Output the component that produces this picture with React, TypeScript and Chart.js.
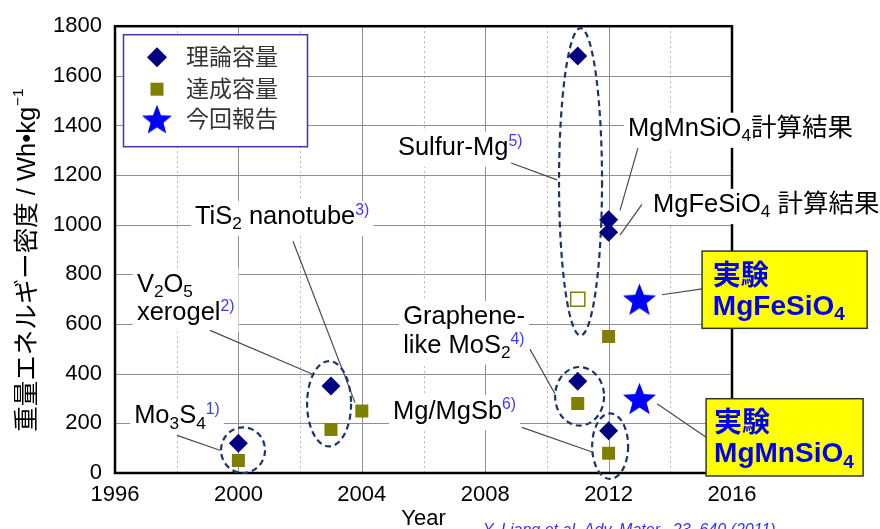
import React, { useEffect, useRef } from "react";
import { Chart, registerables } from "chart.js";

Chart.register(...registerables);

const LATIN = "'Liberation Sans', Arial, Helvetica";
const FONT = `${LATIN}, 'Noto Sans CJK JP', sans-serif`;
const REF_COLOR = "#3a3aff";

// ---------------- data ----------------
const theoryYears = [2000, 2003, 2011, 2011, 2012, 2012, 2012];
const theoryValues = [120, 350, 1680, 370, 170, 1020, 970];
const achievedYears = [2000, 2003, 2004, 2011, 2012, 2012];
const achievedValues = [50, 175, 250, 280, 80, 550];
const sulfurAchievedYears = [2011];
const sulfurAchievedValues = [700];
const reportYears = [2013, 2013];
const reportValues = [700, 300];

const legendLabels = ["理論容量", "達成容量", "今回報告"];
const yTitle = "重量エネルギー密度 / Wh•kg";
const yTitleSup = "−1";
const xTitle = "Year";
const citation = "Y. Liang et al. Adv. Mater., 23, 640 (2011)";

type Part = { t: string; k?: "sub" | "sup" | "ref" };
type Pt = [number, number];

// callout labels (anchors given in data units: year, Wh/kg)
const callouts: { lines: Part[][]; at: Pt; leader: Pt[] }[] = [
  { lines: [[{ t: "Mo" }, { t: "3", k: "sub" }, { t: "S" }, { t: "4", k: "sub" }, { t: "1)", k: "ref" }]], at: [1996.62, 199.6], leader: [[1998.01, 151.7], [1999.4, 91.8]] },
  { lines: [[{ t: "V" }, { t: "2", k: "sub" }, { t: "O" }, { t: "5", k: "sub" }], [{ t: "xerogel" }, { t: "2)", k: "ref" }]], at: [1996.71, 730], leader: [[1999.08, 574.7], [2002.39, 399.1]] },
  { lines: [[{ t: "TiS" }, { t: "2", k: "sub" }, { t: " nanotube" }, { t: "3)", k: "ref" }]], at: [1998.59, 1001.8], leader: [[2001.77, 933.9], [2003.78, 283.4]] },
  { lines: [[{ t: "Sulfur-Mg" }, { t: "5)", k: "ref" }]], at: [2005.17, 1281], leader: [[2008.84, 1249], [2010.33, 1181]] },
  { lines: [[{ t: "MgMnSiO" }, { t: "4", k: "sub" }, { t: "計算結果" }]], at: [2012.63, 1357], leader: [[2012.95, 1309], [2012.37, 1058]] },
  { lines: [[{ t: "MgFeSiO" }, { t: "4", k: "sub" }, { t: " 計算結果" }]], at: [2013.44, 1050], leader: [[2013.08, 1082], [2012.37, 958]] },
  { lines: [[{ t: "Graphene-" }], [{ t: "like MoS" }, { t: "2", k: "sub" }, { t: "4)", k: "ref" }]], at: [2005.34, 599], leader: [[2009.45, 499], [2010.26, 319]] },
  { lines: [[{ t: "Mg/MgSb" }, { t: "6)", k: "ref" }]], at: [2005.01, 219.5], leader: [[2009.19, 183.6], [2011.49, 83.8]] },
];

// dashed rings around groups: centre (year, value), radii (years, value)
const groupRings: { c: Pt; rx: number; ry: number }[] = [
  { c: [2000.15, 92], rx: 0.713, ry: 92 },
  { c: [2002.94, 279], rx: 0.713, ry: 172 },
  { c: [2011.09, 1173], rx: 0.697, ry: 619 },
  { c: [2011.06, 309], rx: 0.794, ry: 118 },
  { c: [2012.05, 108], rx: 0.583, ry: 132 },
];

// yellow result boxes
const reportBoxes: { box: [number, number, number, number]; lines: Part[][]; at: Pt; leader: Pt[] }[] = [
  { box: [2015.03, 894, 2020.38, 582.7], lines: [[{ t: "実験" }], [{ t: "MgFeSiO" }, { t: "4", k: "sub" }]], at: [2015.38, 758], leader: [[2013.73, 718], [2015.03, 742]] },
  { box: [2015.16, 299.3, 2020.25, -12], lines: [[{ t: "実験" }], [{ t: "MgMnSiO" }, { t: "4", k: "sub" }]], at: [2015.42, 163.6], leader: [[2013.57, 279], [2015.16, 144]] },
];

// ---------------- helpers ----------------
function starPath(ctx: CanvasRenderingContext2D, cx: number, cy: number, R: number, r: number) {
  ctx.beginPath();
  for (let i = 0; i < 10; i++) {
    const ang = -Math.PI / 2 + (i * Math.PI) / 5;
    const rad = i % 2 === 0 ? R : r;
    ctx.lineTo(cx + rad * Math.cos(ang), cy + rad * Math.sin(ang));
  }
  ctx.closePath();
}

function makeStar(R: number, color: string) {
  const c = document.createElement("canvas");
  const s = Math.ceil(R * 2 + 4);
  c.width = s;
  c.height = s;
  const ctx = c.getContext("2d")!;
  starPath(ctx, s / 2, s / 2 + R * 0.09, R, R * 0.43);
  ctx.fillStyle = color;
  ctx.fill();
  return c;
}

function partSize(p: Part, size: number) {
  if (p.k === "sub") return size * 0.68;
  if (p.k === "sup") return size * 0.6;
  if (p.k === "ref") return size * 0.62;
  return size;
}
function partDy(p: Part, size: number) {
  if (p.k === "sub") return size * 0.2;
  if (p.k === "sup") return -size * 0.42;
  if (p.k === "ref") return -size * 0.36;
  return 0;
}
function partFont(p: Part, size: number, bold: boolean) {
  return `${bold ? "bold " : ""}${partSize(p, size).toFixed(1)}px ${FONT}`;
}
function richWidth(ctx: CanvasRenderingContext2D, parts: Part[], size: number, bold = false) {
  let w = 0;
  for (const p of parts) {
    ctx.font = partFont(p, size, bold);
    w += ctx.measureText(p.t).width;
  }
  return w;
}
function drawRich(ctx: CanvasRenderingContext2D, parts: Part[], x: number, y: number, size: number, color: string, bold = false) {
  let cx = x;
  ctx.textAlign = "left";
  ctx.textBaseline = "alphabetic";
  for (const p of parts) {
    ctx.font = partFont(p, size, bold);
    ctx.fillStyle = p.k === "ref" ? REF_COLOR : color;
    ctx.fillText(p.t, cx, y + partDy(p, size));
    cx += ctx.measureText(p.t).width;
  }
}

const starBig = makeStar(17.4, "#0000ff");
const starLegend = makeStar(15.8, "#0000ff");

const decor = {
  id: "decor",
  beforeDatasetsDraw(chart: any) {
    const { ctx, chartArea: a } = chart;
    const xs = chart.scales.x;
    const ys = chart.scales.y;
    const X = (v: number) => xs.getPixelForValue(v);
    const Y = (v: number) => ys.getPixelForValue(v);
    const line = (x1: number, y1: number, x2: number, y2: number) => {
      ctx.beginPath();
      ctx.moveTo(x1, y1);
      ctx.lineTo(x2, y2);
      ctx.stroke();
    };
    ctx.save();

    // grid: dotted minor verticals
    const xt: number[] = xs.ticks.map((t: any) => t.value);
    ctx.lineWidth = 1;
    ctx.strokeStyle = "#b5b5b5";
    ctx.setLineDash([2, 3]);
    for (let i = 0; i < xt.length - 1; i++) {
      const px = Math.round(X((xt[i] + xt[i + 1]) / 2)) + 0.5;
      line(px, a.top, px, a.bottom);
    }
    ctx.setLineDash([]);
    ctx.strokeStyle = "#8f8f8f";
    for (const v of xt) {
      const px = Math.round(X(v)) + 0.5;
      if (px > a.left + 2 && px < a.right - 2) line(px, a.top, px, a.bottom);
    }
    for (const t of ys.ticks) {
      const py = Math.round(Y(t.value)) + 0.5;
      if (py > a.top + 2 && py < a.bottom - 2) line(a.left, py, a.right, py);
    }

    // frame
    ctx.strokeStyle = "#000";
    ctx.lineWidth = 2.5;
    ctx.strokeRect(a.left, a.top, a.right - a.left, a.bottom - a.top);

    // callout labels
    const size = 25.5;
    const gap = 28.5;
    for (const c of callouts) {
      const x0 = X(c.at[0]);
      const y0 = Y(c.at[1]);
      let w = 0;
      for (const ln of c.lines) w = Math.max(w, richWidth(ctx, ln, size));
      const yTop = y0 - size * 0.92;
      const yBot = y0 + gap * (c.lines.length - 1) + size * 0.46;
      ctx.fillStyle = "#fff";
      ctx.fillRect(x0 - 4, yTop, w + 8, yBot - yTop);
      c.lines.forEach((ln, i) => drawRich(ctx, ln, x0, y0 + i * gap, size, "#000"));
    }
    ctx.strokeStyle = "#4a4a4a";
    ctx.lineWidth = 1.2;
    for (const c of callouts) {
      ctx.beginPath();
      c.leader.forEach((p, i) => (i ? ctx.lineTo(X(p[0]), Y(p[1])) : ctx.moveTo(X(p[0]), Y(p[1]))));
      ctx.stroke();
    }

    // dashed rings
    ctx.strokeStyle = "#1c3566";
    ctx.lineWidth = 2.2;
    ctx.setLineDash([6, 4]);
    for (const r of groupRings) {
      const cx = X(r.c[0]);
      const cy = Y(r.c[1]);
      const rx = Math.abs(X(r.c[0] + r.rx) - cx);
      const ry = Math.abs(Y(r.c[1] + r.ry) - cy);
      ctx.beginPath();
      ctx.ellipse(cx, cy, rx, ry, 0, 0, Math.PI * 2);
      ctx.stroke();
    }
    ctx.setLineDash([]);

    // legend
    const lx = a.left + 8;
    const ly = a.top + 8;
    const lw = 184;
    const lh = 112;
    ctx.fillStyle = "#fff";
    ctx.fillRect(lx, ly, lw, lh);
    ctx.strokeStyle = "#3b3b9b";
    ctx.lineWidth = 1.5;
    ctx.strokeRect(lx + 0.5, ly + 0.5, lw, lh);
    const rows = [ly + 23, ly + 55, ly + 85];
    const mx = lx + 34;
    // diamond
    ctx.fillStyle = "#000080";
    ctx.beginPath();
    ctx.moveTo(mx, rows[0] - 10);
    ctx.lineTo(mx + 10, rows[0]);
    ctx.lineTo(mx, rows[0] + 10);
    ctx.lineTo(mx - 10, rows[0]);
    ctx.closePath();
    ctx.fill();
    // square
    ctx.fillStyle = "#808000";
    ctx.fillRect(mx - 6.5, rows[1] - 6.5, 13, 13);
    // star
    ctx.drawImage(starLegend, mx - starLegend.width / 2, rows[2] - starLegend.height / 2);
    ctx.font = `23px ${FONT}`;
    ctx.fillStyle = "#333";
    ctx.textAlign = "left";
    ctx.textBaseline = "middle";
    legendLabels.forEach((t, i) => ctx.fillText(t, lx + 63, rows[i] + 1));

    ctx.restore();
  },
  afterDatasetsDraw(chart: any) {
    const { ctx } = chart;
    const xs = chart.scales.x;
    const ys = chart.scales.y;
    const X = (v: number) => xs.getPixelForValue(v);
    const Y = (v: number) => ys.getPixelForValue(v);
    ctx.save();
    for (const b of reportBoxes) {
      ctx.strokeStyle = "#4a4a4a";
      ctx.lineWidth = 1.2;
      ctx.beginPath();
      b.leader.forEach((p, i) => (i ? ctx.lineTo(X(p[0]), Y(p[1])) : ctx.moveTo(X(p[0]), Y(p[1]))));
      ctx.stroke();
      const x1 = X(b.box[0]);
      const y1 = Y(b.box[1]);
      const x2 = X(b.box[2]);
      const y2 = Y(b.box[3]);
      ctx.fillStyle = "#ffff00";
      ctx.fillRect(x1, y1, x2 - x1, y2 - y1);
      ctx.strokeStyle = "#333";
      ctx.lineWidth = 1.5;
      ctx.strokeRect(x1, y1, x2 - x1, y2 - y1);
      b.lines.forEach((ln, i) => drawRich(ctx, ln, X(b.at[0]), Y(b.at[1]) + i * 30, 28, "#0000f0", true));
    }
    ctx.restore();
  },
  afterDraw(chart: any) {
    const { ctx, chartArea: a } = chart;
    ctx.save();
    // y title
    const size = 25.5;
    ctx.font = `${size}px ${FONT}`;
    const w1 = ctx.measureText(yTitle).width;
    ctx.font = `${size * 0.6}px ${FONT}`;
    const w2 = ctx.measureText(yTitleSup).width;
    const total = w1 + w2;
    ctx.translate(25, (a.top + a.bottom) / 2 + 11);
    ctx.rotate(-Math.PI / 2);
    ctx.textAlign = "left";
    ctx.textBaseline = "alphabetic";
    ctx.fillStyle = "#000";
    ctx.font = `${size}px ${FONT}`;
    ctx.fillText(yTitle, -total / 2, 9.5);
    ctx.font = `${size * 0.6}px ${FONT}`;
    ctx.fillText(yTitleSup, -total / 2 + w1 + 1, 9.5 - size * 0.45);
    ctx.restore();

    ctx.save();
    ctx.fillStyle = "#000";
    ctx.font = `22px ${FONT}`;
    ctx.textAlign = "center";
    ctx.textBaseline = "alphabetic";
    ctx.fillText(xTitle, (a.left + a.right) / 2, 525);
    ctx.font = `italic 16px ${FONT}`;
    ctx.fillStyle = "#3333ff";
    ctx.textAlign = "left";
    ctx.fillText(citation, 483, 535);
    ctx.restore();
  },
};

export default function App() {
  const ref = useRef<HTMLCanvasElement | null>(null);
  useEffect(() => {
    if (!ref.current) return;
    const pts = (xs: number[], ys: number[]) => xs.map((x, i) => ({ x, y: ys[i] }));
    const chart = new Chart(ref.current, {
      type: "scatter",
      data: {
        datasets: [
          {
            label: "Sulfur-Mg 達成容量",
            data: pts(sulfurAchievedYears, sulfurAchievedValues),
            pointStyle: "rect",
            pointRadius: 10,
            pointBackgroundColor: "#ffffff",
            pointBorderColor: "#808000",
            pointBorderWidth: 1.5,
          },
          {
            label: legendLabels[1],
            data: pts(achievedYears, achievedValues),
            pointStyle: "rect",
            pointRadius: 9.2,
            pointBackgroundColor: "#808000",
            pointBorderColor: "#808000",
            pointBorderWidth: 0,
          },
          {
            label: legendLabels[0],
            data: pts(theoryYears, theoryValues),
            pointStyle: "rectRot",
            pointRadius: 9.5,
            pointBackgroundColor: "#000080",
            pointBorderColor: "#000080",
            pointBorderWidth: 0,
          },
          {
            label: legendLabels[2],
            data: pts(reportYears, reportValues),
            pointStyle: starBig as any,
            pointRadius: 17,
          },
        ],
      },
      options: {
        responsive: false,
        animation: false,
        events: [],
        layout: { padding: { top: 22, right: 148, left: 0, bottom: 0 } },
        plugins: { legend: { display: false }, tooltip: { enabled: false } },
        scales: {
          x: {
            type: "linear",
            min: 1996,
            max: 2016,
            afterFit: (s: any) => {
              s.height = 56;
            },
            grid: { display: false, drawTicks: false },
            border: { display: false },
            ticks: {
              stepSize: 4,
              padding: 9,
              color: "#000",
              font: { family: LATIN, size: 22 },
              callback: (v: any) => String(v),
            },
          },
          y: {
            min: 0,
            max: 1800,
            afterFit: (s: any) => {
              s.width = 115;
            },
            grid: { display: false, drawTicks: false },
            border: { display: false },
            ticks: {
              stepSize: 200,
              padding: 13,
              color: "#000",
              font: { family: LATIN, size: 22 },
              callback: (v: any) => String(v),
            },
          },
        },
      },
      plugins: [decor],
    });
    return () => chart.destroy();
  }, []);
  return (
    <div style={{ position: "fixed", left: 0, top: 0, width: 880, height: 529, background: "#fff" }}>
      <canvas ref={ref} width={880} height={529} style={{ display: "block" }} />
    </div>
  );
}
